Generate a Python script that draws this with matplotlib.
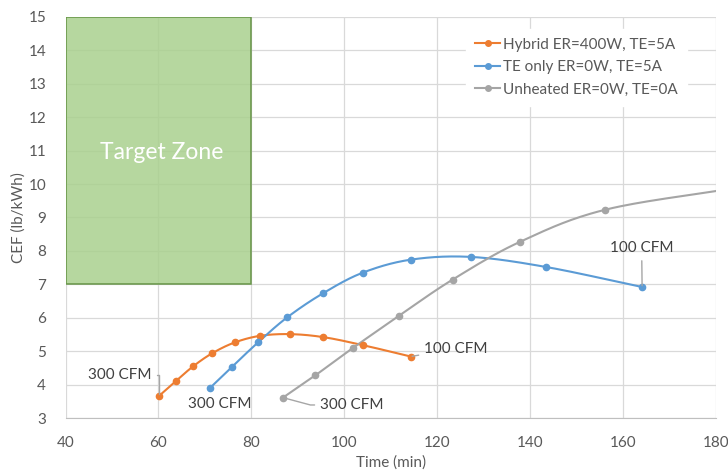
import numpy as np
import matplotlib
matplotlib.use("Agg")
import matplotlib.pyplot as plt
from matplotlib.patches import Rectangle

plt.rcParams['font.family'] = ['Lato', 'DejaVu Sans']

# data
hybrid_t = [60.2, 63.7, 67.5, 71.6, 76.4, 81.9, 88.3, 95.5, 104.0, 114.3]
hybrid_cef = [3.67, 4.10, 4.55, 4.94, 5.26, 5.46, 5.51, 5.42, 5.18, 4.84]
te_t = [71.1, 75.9, 81.5, 87.7, 95.4, 104.0, 114.4, 127.3, 143.4, 164.1]
te_cef = [3.90, 4.54, 5.27, 6.01, 6.73, 7.35, 7.74, 7.82, 7.52, 6.92]
unh_t = [86.8, 93.8, 101.9, 111.8, 123.3, 137.8, 156.1, 185.0]
unh_cef = [3.61, 4.28, 5.10, 6.06, 7.14, 8.27, 9.23, 9.90]
series_names = ['Hybrid ER=400W, TE=5A', 'TE only ER=0W, TE=5A', 'Unheated ER=0W, TE=0A']
colors = ['#ed7d31', '#5b9bd5', '#a5a5a5']


def smooth(x, y, n=30):
    # catmull-rom style smoothing like excel's smoothed lines
    x = np.asarray(x, float)
    y = np.asarray(y, float)
    px = np.concatenate([[2 * x[0] - x[1]], x, [2 * x[-1] - x[-2]]])
    py = np.concatenate([[2 * y[0] - y[1]], y, [2 * y[-1] - y[-2]]])
    xs, ys = [], []
    t = np.linspace(0, 1, n)
    for i in range(1, len(px) - 2):
        for p, out in ((px, xs), (py, ys)):
            p0, p1, p2, p3 = p[i - 1], p[i], p[i + 1], p[i + 2]
            out.append(0.5 * ((2 * p1) + (-p0 + p2) * t
                              + (2 * p0 - 5 * p1 + 4 * p2 - p3) * t ** 2
                              + (-p0 + 3 * p1 - 3 * p2 + p3) * t ** 3))
    return np.concatenate(xs), np.concatenate(ys)


fig = plt.figure(figsize=(7.28, 4.71), dpi=100)
ax = fig.add_axes([0.090, 0.1125, 0.8935, 0.8515])

ax.add_patch(Rectangle((40, 7), 40, 8, facecolor='#a9d08e', alpha=0.85,
                       edgecolor='#5f8f3e', linewidth=1.2, zorder=1))
ax.text(60.6, 10.93, 'Target Zone', color='white', fontsize=16.5, ha='center', va='center', zorder=2)

for (t, c), col, name in zip([(hybrid_t, hybrid_cef), (te_t, te_cef), (unh_t, unh_cef)], colors, series_names):
    sx, sy = smooth(t, c)
    ax.plot(sx, sy, color=col, linewidth=1.5, zorder=3)
    ax.plot(t, c, 'o', color=col, markersize=4.5, zorder=4)
    ax.plot([], [], '-o', color=col, linewidth=1.5, markersize=4, label=name)

lab = dict(fontsize=11, color='#404040', zorder=5)
lc = dict(arrowstyle='-', color='#a6a6a6', lw=1, shrinkA=2, shrinkB=1)
ax.annotate('300 CFM', xy=(hybrid_t[0], hybrid_cef[0]), xytext=(51.7, 4.3), ha='center', va='center',
            arrowprops=dict(**lc, connectionstyle='angle,angleA=0,angleB=90'), **lab)
ax.text(73.2, 3.42, '300 CFM', ha='center', va='center', **lab)
ax.annotate('300 CFM', xy=(unh_t[0], unh_cef[0]), xytext=(94.8, 3.39), ha='left', va='center',
            arrowprops=dict(**lc, connectionstyle='angle,angleA=0,angleB=-15'), **lab)
ax.annotate('100 CFM', xy=(hybrid_t[-1], hybrid_cef[-1]), xytext=(117.2, 5.07), ha='left', va='center',
            arrowprops=dict(**lc), **lab)
ax.annotate('100 CFM', xy=(te_t[-1], te_cef[-1]), xytext=(164.0, 8.08), ha='center', va='center',
            arrowprops=dict(**lc), **lab)

ax.set_xlim(40, 180)
ax.set_ylim(3, 15)
ax.set_xticks(np.arange(40, 181, 20))
ax.set_yticks(np.arange(3, 16, 1))
ax.grid(True, color='#d9d9d9', linewidth=0.9, zorder=0)
ax.set_axisbelow(True)
for s in ['top', 'right', 'left']:
    ax.spines[s].set_visible(False)
ax.spines['bottom'].set_color('#bfbfbf')
ax.tick_params(length=0, labelsize=11, labelcolor='#595959')
ax.tick_params(axis='x', pad=13)
ax.tick_params(axis='y', pad=14)
ax.set_xlabel('Time (min)', fontsize=11, color='#595959', labelpad=4)
ax.set_ylabel('CEF (lb/kWh)', fontsize=11, color='#595959', labelpad=2)

leg = ax.legend(loc='upper right', bbox_to_anchor=(0.967, 0.99), fontsize=11, frameon=True,
                handlelength=1.6, handletextpad=0.2, labelspacing=0.55, borderpad=0.6)
leg.get_frame().set_edgecolor('white')
leg.get_frame().set_facecolor('white')
leg.get_frame().set_alpha(1)
for t in leg.get_texts():
    t.set_color('#595959')

fig.savefig('out.png', dpi=100)
